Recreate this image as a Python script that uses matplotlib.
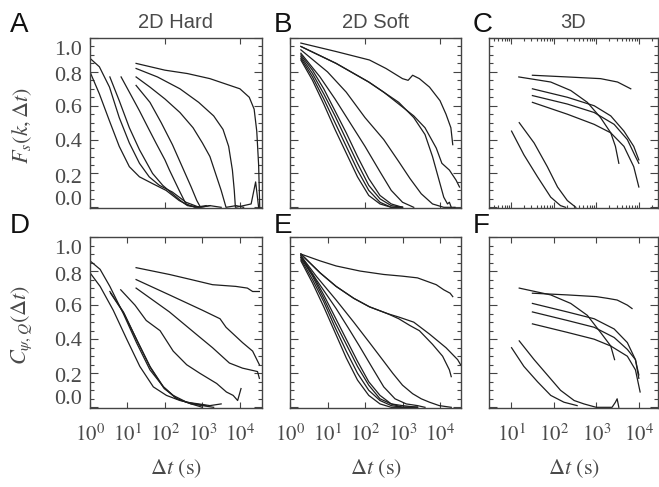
import matplotlib
matplotlib.use("Agg")
import matplotlib.pyplot as plt
import numpy as np
from matplotlib.ticker import FixedLocator, LogLocator, NullFormatter

plt.rcParams["mathtext.fontset"] = "stix"
plt.rcParams["font.family"] = ["Liberation Serif", "DejaVu Serif"]

TEXT = "#4a4a4a"
LINE = "#1e1e1e"

# curves: log10(dt / s) and correlation value
# 2D hard, F_s
A_lt = [
    [0, 0.25, 0.52, 0.78, 1.05, 1.32, 1.58, 1.85, 2.2, 2.56, 2.92, 3.2],
    [0, 0.25, 0.52, 0.78, 1.05, 1.32, 1.67, 2.03, 2.38, 2.65, 2.9],
    [0.53, 0.78, 1.05, 1.32, 1.67, 1.94, 2.2, 2.47, 2.6, 2.9],
    [0.83, 1.1, 1.32, 1.55, 1.76, 2.0, 2.12, 2.38, 2.56, 2.8, 3.1],
    [1.23, 1.6, 1.9, 2.2, 2.5, 2.7, 2.85, 2.95, 3.2, 3.5],
    [1.23, 1.6, 2.0, 2.4, 2.75, 3.0, 3.2, 3.35, 3.5, 3.63, 3.9, 4.1],
    [1.23, 1.8, 2.4, 2.9, 3.3, 3.55, 3.7, 3.8, 3.85, 3.88, 4.1, 4.3, 4.42, 4.5],
    [1.23, 2.0, 2.6, 3.2, 3.6, 4.0, 4.25, 4.38, 4.45, 4.5, 4.53],
]
A_v = [
    [0.88, 0.83, 0.71, 0.53, 0.38, 0.26, 0.18, 0.13, 0.09, 0.03, 0.0, 0.01],
    [0.80, 0.67, 0.51, 0.36, 0.24, 0.18, 0.14, 0.10, 0.04, 0.01, 0.0],
    [0.77, 0.63, 0.47, 0.34, 0.20, 0.13, 0.08, 0.03, 0.01, 0.0],
    [0.77, 0.66, 0.57, 0.47, 0.38, 0.28, 0.22, 0.10, 0.02, 0.0, 0.01],
    [0.72, 0.62, 0.50, 0.37, 0.22, 0.12, 0.04, 0.0, 0.01, 0.0],
    [0.77, 0.71, 0.64, 0.56, 0.47, 0.38, 0.30, 0.20, 0.10, 0.0, 0.01, 0.0],
    [0.82, 0.77, 0.70, 0.62, 0.54, 0.46, 0.36, 0.22, 0.10, 0.0, 0.01, 0.02, 0.15, 0.0],
    [0.85, 0.81, 0.79, 0.76, 0.73, 0.70, 0.65, 0.58, 0.45, 0.25, 0.0],
]

# 2D soft, F_s
B_lt = [
    [0.29, 1.23, 2.12, 2.56, 3.0, 3.15, 3.27, 3.45, 3.72, 4.0, 4.16, 4.29, 4.34],
    [0.29, 1.23, 2.1, 2.5, 2.9, 3.3, 3.6, 3.9, 4.05, 4.25, 4.43, 4.52],
    [0.29, 1.23, 2.1, 2.5, 2.9, 3.3, 3.6, 3.8, 3.95, 4.1, 4.2, 4.25, 4.3],
    [0.29, 1.0, 1.5, 2.0, 2.5, 2.9, 3.2, 3.5, 3.8, 4.1, 4.4],
    [0.29, 0.8, 1.2, 1.6, 2.0, 2.4, 2.7, 3.0, 3.3],
    [0.29, 0.6, 0.9, 1.2, 1.5, 1.8, 2.1, 2.4, 2.7, 3.0],
    [0.29, 0.6, 0.9, 1.2, 1.5, 1.8, 2.1, 2.4, 2.7, 3.0],
    [0.29, 0.6, 0.9, 1.2, 1.5, 1.8, 2.1, 2.4, 2.7, 3.0],
    [0.29, 0.6, 0.9, 1.2, 1.5, 1.8, 2.1, 2.4, 2.7, 3.0],
]
B_v = [
    [0.97, 0.92, 0.87, 0.82, 0.76, 0.75, 0.78, 0.76, 0.71, 0.63, 0.55, 0.47, 0.37],
    [0.95, 0.85, 0.74, 0.68, 0.61, 0.54, 0.47, 0.35, 0.26, 0.22, 0.16, 0.12],
    [0.95, 0.85, 0.74, 0.68, 0.62, 0.53, 0.43, 0.30, 0.18, 0.06, 0.02, 0.03, 0.0],
    [0.93, 0.80, 0.68, 0.53, 0.40, 0.27, 0.17, 0.08, 0.02, 0.0, 0.0],
    [0.91, 0.77, 0.64, 0.50, 0.36, 0.21, 0.10, 0.03, 0.0],
    [0.90, 0.81, 0.70, 0.57, 0.44, 0.30, 0.17, 0.07, 0.02, 0.0],
    [0.89, 0.79, 0.67, 0.54, 0.40, 0.26, 0.13, 0.05, 0.01, 0.0],
    [0.88, 0.77, 0.64, 0.50, 0.36, 0.22, 0.10, 0.03, 0.0, 0.0],
    [0.87, 0.75, 0.61, 0.46, 0.32, 0.18, 0.07, 0.02, 0.0, 0.0],
]

# 3D, F_s
C_lt = [
    [1.5, 2.32, 3.1, 3.5, 3.81],
    [1.18, 1.93, 2.4, 2.79, 3.1, 3.34, 3.45, 3.53],
    [1.5, 2.32, 2.95, 3.34, 3.65, 3.88, 4.0],
    [1.5, 2.32, 2.95, 3.42, 3.73, 3.92, 4.0],
    [1.5, 2.32, 2.95, 3.34, 3.65, 3.88, 4.0],
    [1.01, 1.30, 1.62, 1.93, 2.16, 2.28],
    [1.19, 1.54, 1.85, 2.09, 2.32, 2.52],
]
C_v = [
    [0.78, 0.77, 0.76, 0.74, 0.70],
    [0.77, 0.74, 0.69, 0.62, 0.53, 0.44, 0.36, 0.26],
    [0.70, 0.65, 0.60, 0.54, 0.45, 0.36, 0.28],
    [0.66, 0.61, 0.56, 0.49, 0.40, 0.30, 0.26],
    [0.62, 0.55, 0.49, 0.44, 0.36, 0.24, 0.12],
    [0.45, 0.31, 0.18, 0.06, 0.01, 0.0],
    [0.50, 0.38, 0.24, 0.12, 0.04, 0.0],
]

# 2D hard, C_psi,Q
D_lt = [
    [1.23, 2.12, 2.7, 3.27, 3.89, 4.2, 4.34, 4.52],
    [1.23, 2.12, 3.0, 3.47, 3.63, 4.07, 4.34, 4.52],
    [1.23, 2.12, 2.83, 3.27, 3.72, 4.07, 4.47, 4.52],
    [0.82, 1.2, 1.5, 1.87, 2.22, 2.58, 2.93, 3.38, 3.64, 3.82, 3.94, 4.03],
    [0, 0.27, 0.53, 0.89, 1.24, 1.6, 1.96, 2.22, 2.58, 2.9, 3.2, 3.5],
    [0, 0.27, 0.62, 0.98, 1.33, 1.69, 2.04, 2.4, 2.8, 3.1],
    [0.53, 0.89, 1.24, 1.6, 1.96, 2.31, 2.7, 3.0, 3.3],
    [0.55, 0.91, 1.26, 1.62, 1.98, 2.33, 2.7, 3.0],
]
D_v = [
    [0.82, 0.78, 0.75, 0.72, 0.71, 0.70, 0.68, 0.68],
    [0.75, 0.66, 0.57, 0.52, 0.47, 0.38, 0.33, 0.25],
    [0.70, 0.56, 0.43, 0.35, 0.26, 0.23, 0.21, 0.17],
    [0.69, 0.60, 0.51, 0.45, 0.33, 0.25, 0.20, 0.14, 0.09, 0.07, 0.04, 0.11],
    [0.86, 0.81, 0.71, 0.55, 0.38, 0.22, 0.12, 0.07, 0.03, 0.02, 0.01, 0.02],
    [0.79, 0.71, 0.57, 0.40, 0.24, 0.12, 0.07, 0.04, 0.02, 0.01],
    [0.68, 0.56, 0.40, 0.24, 0.12, 0.05, 0.02, 0.01, 0.0],
    [0.67, 0.55, 0.39, 0.23, 0.11, 0.05, 0.02, 0.0],
]

# 2D soft, C_psi,Q
E_lt = [
    [0.29, 0.8, 1.23, 1.87, 2.5, 3.0, 3.4, 3.65, 3.9, 4.1, 4.27, 4.34],
    [0.29, 0.8, 1.23, 1.7, 2.12, 2.6, 2.9, 3.3, 3.72, 4.16, 4.47, 4.55],
    [0.29, 0.8, 1.23, 1.7, 2.12, 2.6, 2.9, 3.2, 3.45, 3.8, 4.07, 4.25, 4.3],
    [0.29, 0.7, 1.23, 1.7, 2.12, 2.5, 2.74, 3.0, 3.27, 3.5, 3.72, 3.98, 4.3],
    [0.29, 0.7, 1.23, 1.6, 1.85, 2.2, 2.5, 2.8, 3.1, 3.4, 3.6],
    [0.29, 0.6, 0.9, 1.2, 1.5, 1.8, 2.1, 2.4, 2.7, 3.0, 3.4],
    [0.29, 0.6, 0.9, 1.2, 1.5, 1.8, 2.1, 2.4, 2.7, 3.0, 3.4],
    [0.29, 0.6, 0.9, 1.2, 1.5, 1.8, 2.1, 2.4, 2.7, 3.0, 3.4],
    [0.29, 0.6, 0.9, 1.2, 1.5, 1.8, 2.1, 2.4, 2.7, 3.0, 3.4],
]
E_v = [
    [0.90, 0.86, 0.83, 0.80, 0.78, 0.77, 0.76, 0.74, 0.72, 0.69, 0.67, 0.65],
    [0.90, 0.79, 0.71, 0.64, 0.59, 0.55, 0.53, 0.50, 0.43, 0.35, 0.28, 0.25],
    [0.90, 0.79, 0.71, 0.64, 0.59, 0.55, 0.52, 0.48, 0.45, 0.37, 0.30, 0.22, 0.18],
    [0.89, 0.77, 0.63, 0.50, 0.38, 0.27, 0.20, 0.13, 0.08, 0.05, 0.03, 0.01, 0.0],
    [0.89, 0.75, 0.58, 0.45, 0.36, 0.23, 0.12, 0.05, 0.02, 0.01, 0.0],
    [0.88, 0.78, 0.66, 0.53, 0.40, 0.27, 0.15, 0.07, 0.02, 0.01, 0.0],
    [0.88, 0.77, 0.64, 0.50, 0.37, 0.24, 0.13, 0.05, 0.02, 0.0, 0.0],
    [0.87, 0.75, 0.62, 0.47, 0.33, 0.20, 0.10, 0.04, 0.01, 0.0, 0.0],
    [0.86, 0.73, 0.59, 0.44, 0.29, 0.16, 0.07, 0.02, 0.0, 0.0, 0.0],
]

# 3D, C_psi,Q
F_lt = [
    [1.5, 2.32, 3.0, 3.26, 3.49, 3.73, 3.84],
    [1.19, 1.93, 2.4, 2.79, 3.1, 3.34, 3.43],
    [1.5, 2.32, 2.95, 3.42, 3.73, 3.92, 4.0],
    [1.5, 2.32, 2.95, 3.42, 3.73, 3.92, 4.0],
    [1.5, 2.32, 2.95, 3.34, 3.73, 3.92, 4.03],
    [1.01, 1.3, 1.62, 1.93, 2.24, 2.55],
    [1.19, 1.54, 1.85, 2.16, 2.48, 2.71, 3.0, 3.37, 3.45, 3.49, 3.53],
]
F_v = [
    [0.67, 0.66, 0.65, 0.64, 0.63, 0.60, 0.58],
    [0.70, 0.66, 0.61, 0.54, 0.44, 0.36, 0.28],
    [0.61, 0.56, 0.52, 0.46, 0.38, 0.28, 0.17],
    [0.56, 0.51, 0.47, 0.41, 0.34, 0.28, 0.19],
    [0.49, 0.44, 0.40, 0.36, 0.30, 0.22, 0.09],
    [0.35, 0.24, 0.15, 0.07, 0.03, 0.01],
    [0.39, 0.28, 0.19, 0.10, 0.04, 0.02, 0.0, 0.0, 0.03, 0.05, 0.0],
]

titles = ["2D Hard", "2D Soft", "3D"]
letters = ["A", "B", "C", "D", "E", "F"]
ytick_labels = ["1.0", "0.8", "0.6", "0.4", "0.2", "0.0"]
xtick_exps = [0, 1, 2, 3, 4]

W, H = 659, 487
fig = plt.figure(figsize=(W / 100, H / 100), dpi=100)


def box(x0, x1, y0, y1):
    return [x0 / W, 1 - y1 / H, (x1 - x0) / W, (y1 - y0) / H]


cols = [(90, 262, 0, 4.59), (290, 461, 0, 4.56), (489, 658, 0.48, 4.45)]
rows = [(38, 208), (237, 408)]
letter_x = [10, 274, 473]
letter_y = [25, 226]
panels = [(A_lt, A_v), (B_lt, B_v), (C_lt, C_v), (D_lt, D_v), (E_lt, E_v), (F_lt, F_v)]

# y label positions (axes fraction), the labels in the original sit off the ticks
ylab_pos = [0.929, 0.771, 0.588, 0.388, 0.176, 0.047]

for i, (lts, vs) in enumerate(panels):
    r, c = divmod(i, 3)
    x0, x1, lo, hi = cols[c]
    y0, y1 = rows[r]
    ax = fig.add_axes(box(x0, x1, y0, y1))
    for lt, v in zip(lts, vs):
        ax.plot(10 ** np.array(lt), v, color=LINE, lw=0.9)
    ax.set_xscale("log")
    ax.set_xlim(10 ** lo, 10 ** hi)
    ax.set_ylim(-0.004, 1.0)

    ax.yaxis.set_major_locator(FixedLocator([0, 0.2, 0.4, 0.6, 0.8, 1.0]))
    ax.yaxis.set_minor_locator(FixedLocator(np.arange(0, 1.001, 0.05)))
    ax.xaxis.set_major_locator(LogLocator(base=10))
    ax.xaxis.set_minor_locator(LogLocator(base=10, subs=np.arange(2, 10)))
    ax.xaxis.set_minor_formatter(NullFormatter())
    ax.set_yticklabels([])
    ax.tick_params(axis="both", which="both", direction="in", top=True, right=True,
                   color="#444444", width=0.8)
    ax.tick_params(axis="y", which="major", length=6)
    ax.tick_params(axis="y", which="minor", length=3)
    ax.tick_params(axis="x", which="major", length=4)
    ax.tick_params(axis="x", which="minor", length=2)
    for s in ax.spines.values():
        s.set_color("#444444")
        s.set_linewidth(1.0)

    if r == 1:
        ticks = [10 ** e for e in xtick_exps if lo <= e <= hi]
        ax.set_xticks(ticks)
        ax.set_xticklabels(["$10^{%d}$" % e for e in xtick_exps if lo <= e <= hi])
        ax.tick_params(axis="x", which="major", labelsize=15, labelcolor=TEXT, pad=12)
        ax.set_xlabel(r"$\Delta t\ \mathrm{(s)}$", fontsize=16, color=TEXT, labelpad=8)
    else:
        ax.set_xticklabels([])
        ax.set_title(titles[c], fontsize=14.5, color=TEXT, family="Liberation Sans", pad=7)

    if c == 0:
        for lab, yp in zip(ytick_labels, ylab_pos):
            ax.text(-0.045, yp, lab, transform=ax.transAxes, ha="right", va="center",
                    fontsize=16, color=TEXT)

    fig.text(letter_x[c] / W, 1 - letter_y[r] / H, letters[i], fontsize=20,
             family="Liberation Sans", color="#111111", ha="left", va="center")

fig.text(22 / W, 1 - 125 / H, r"$F_s(k,\Delta t)$", rotation=90, fontsize=16,
         color=TEXT, ha="center", va="center")
fig.text(22 / W, 1 - 325 / H, r"$C_{\psi,Q}(\Delta t)$", rotation=90, fontsize=16,
         color=TEXT, ha="center", va="center")

fig.savefig("out.png", dpi=100)
